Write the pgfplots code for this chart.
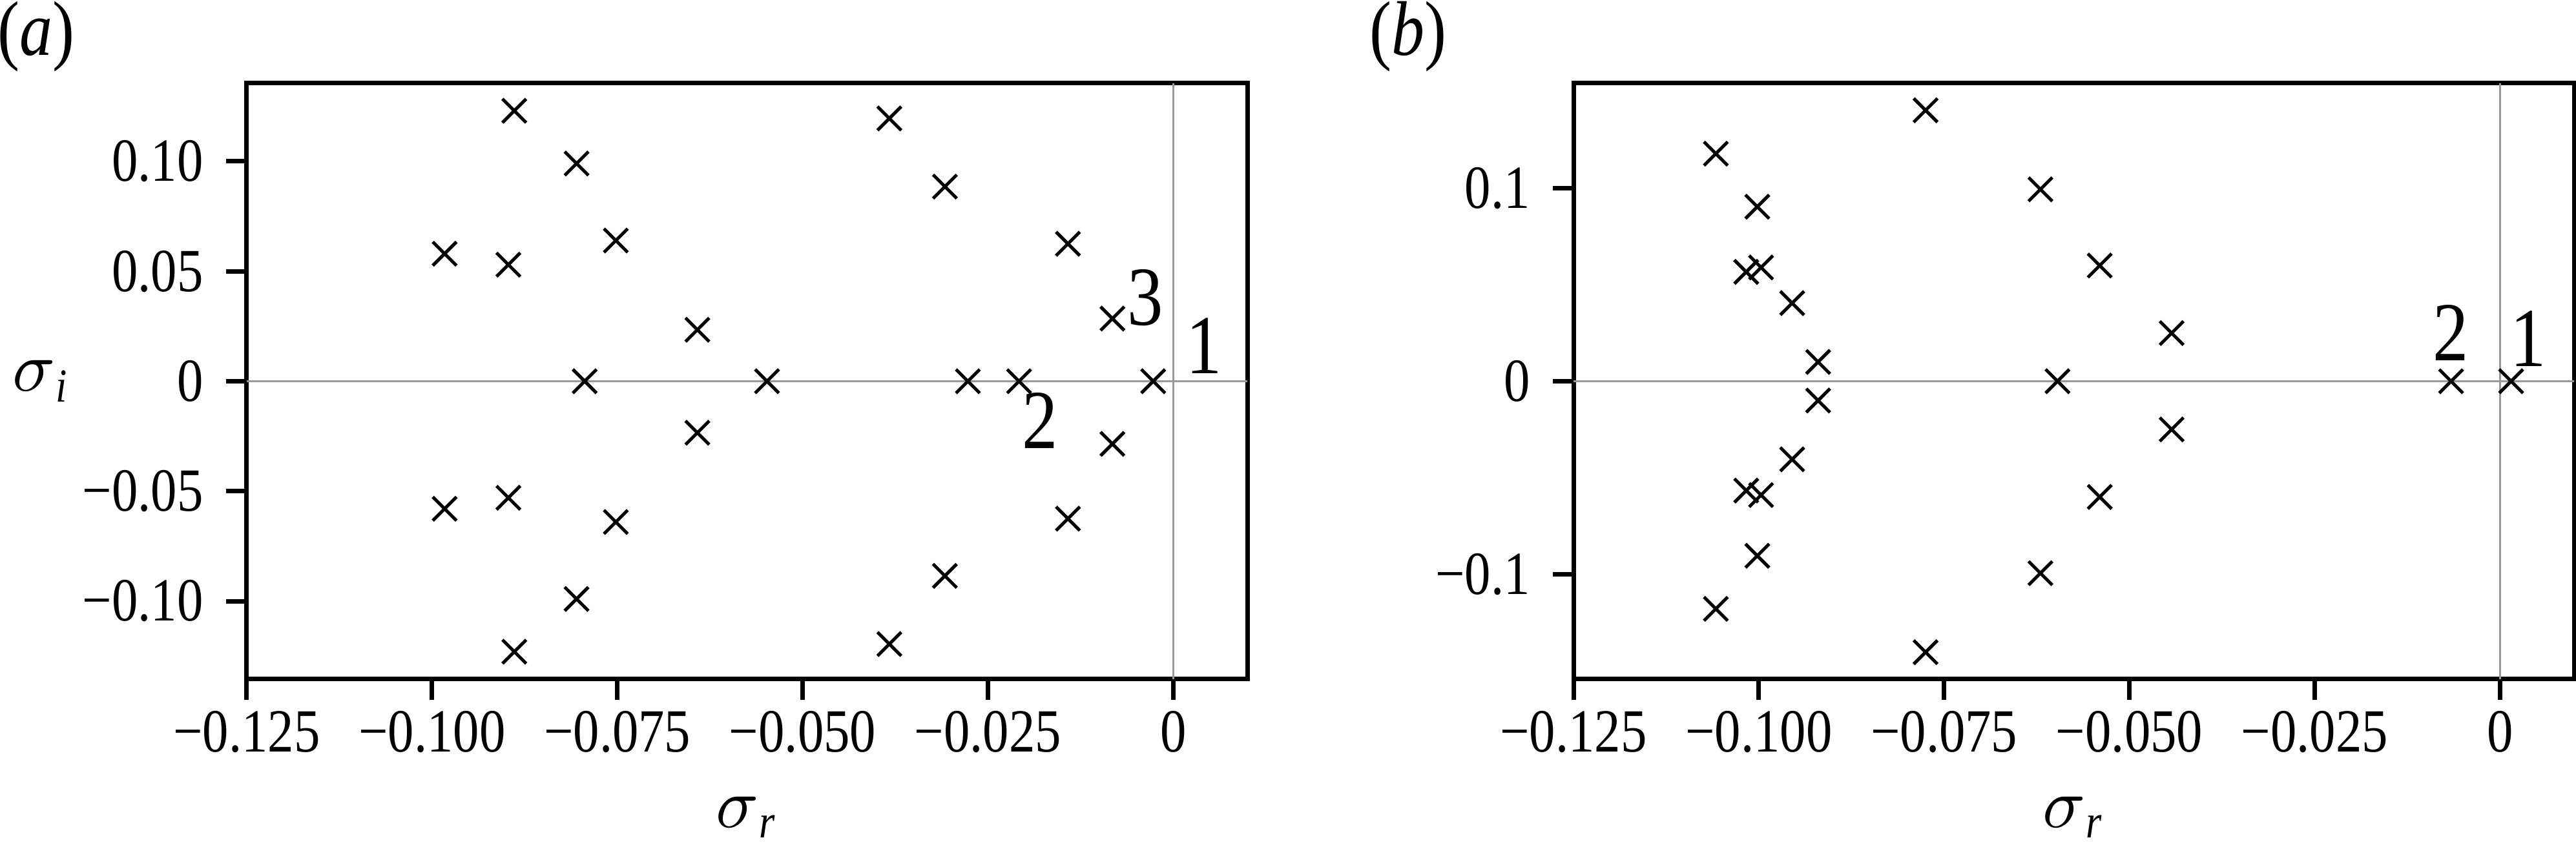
\documentclass[border=0pt]{standalone}
\usepackage{fontspec}
\setmainfont[FakeStretch=0.85]{Liberation Serif}
\usepackage{pgfplots}
\usepackage{pgfplotstable}
\pgfplotsset{compat=1.18}

\pgfplotstableread{
x y
-0.0889 0.123
-0.0805 0.099
-0.0983 0.058
-0.0897 0.053
-0.0752 0.064
-0.0642 0.0234
-0.0794 0
-0.0548 0
-0.0642 -0.0234
-0.0983 -0.058
-0.0897 -0.053
-0.0752 -0.064
-0.0805 -0.099
-0.0889 -0.123
-0.0383 0.1195
-0.0308 0.0885
-0.0142 0.0625
-0.0082 0.0285
-0.0277 0
-0.0208 0
-0.0027 0
-0.0082 -0.0285
-0.0142 -0.0625
-0.0308 -0.0885
-0.0383 -0.1195
}\dataA

\pgfplotstableread{
x y
-0.0775 0.1405
-0.1058 0.118
-0.0620 0.0995
-0.1002 0.0905
-0.1017 0.0567
-0.0997 0.059
-0.0540 0.060
-0.0955 0.0405
-0.0920 0.010
-0.0443 0.025
-0.0597 0
-0.0066 0
0.0015 0
-0.0920 -0.010
-0.0955 -0.0405
-0.1017 -0.0567
-0.0997 -0.059
-0.1002 -0.0905
-0.1058 -0.118
-0.0775 -0.1405
-0.0620 -0.0995
-0.0540 -0.060
-0.0443 -0.025
}\dataB

\pgfplotsset{myax/.style={
  width=154.9pt, height=92.3pt, scale only axis,
  xmin=-0.125, xmax=0.01,
  axis line style={line width=0.7pt},
  every tick/.style={line width=0.7pt, black},
  major tick length=3.2pt,
  tick align=outside,
  xtick pos=left, ytick pos=left,
  xtick={-0.125,-0.1,-0.075,-0.05,-0.025,0},
  xticklabels={−0.125,−0.100,−0.075,−0.050,−0.025,0},
  ticklabel style={font=\fontsize{9.5}{11}\selectfont},
  xticklabel style={inner sep=1.5pt},
  scaled ticks=false,
  clip=false,
  xlabel={$\sigma$\textsubscript{\textit{r}}},
  every axis x label/.style={at={(rel axis cs:0.5,0)}, anchor=center, yshift=-21.4pt, inner sep=0pt, font=\fontsize{10.5}{12}\selectfont},
  every axis y label/.style={at={(rel axis cs:0,0.5)}, anchor=center, xshift=-31.8pt, inner sep=0pt, font=\fontsize{10.5}{12}\selectfont},
}}

\begin{document}
\begin{tikzpicture}
\path[use as bounding box] (0,0) rectangle (398.8pt,133.2pt);
\node[font=\fontsize{12}{14}\selectfont] at (5.6pt,127.5pt) {(\textit{a})};
\node[font=\fontsize{12}{14}\selectfont] at (218.0pt,127.5pt) {(\textit{b})};

\begin{axis}[myax, at={(38.2pt,28pt)}, anchor=south west,
  ymin=-0.1355, ymax=0.1355,
  ytick={-0.1,-0.05,0,0.05,0.1},
  yticklabels={−0.10,−0.05,0,0.05,0.10},
  ylabel={$\sigma$\textsubscript{\textit{i}}}]
\addplot[color={rgb,255:red,153;green,153;blue,153}, line width=0.35pt, forget plot] coordinates {(-0.125,0) (0.01,0)};
\addplot[color={rgb,255:red,153;green,153;blue,153}, line width=0.35pt, forget plot] coordinates {(0,-0.1355) (0,0.1355)};
\addplot[only marks, mark=x, mark size=2.6pt, black, line width=0.5pt] table[x=x,y=y] {\dataA};
\node[font=\fontsize{13}{15}\selectfont] at (axis cs:-0.0038,0.038) {3};
\node[font=\fontsize{13}{15}\selectfont] at (axis cs:0.0042,0.016) {1};
\node[font=\fontsize{13}{15}\selectfont] at (axis cs:-0.018,-0.018) {2};
\end{axis}

\begin{axis}[myax, at={(243.6pt,28pt)}, anchor=south west,
  ymin=-0.1545, ymax=0.1545,
  ytick={-0.1,0,0.1},
  yticklabels={−0.1,0,0.1}]
\addplot[color={rgb,255:red,153;green,153;blue,153}, line width=0.35pt, forget plot] coordinates {(-0.125,0) (0.01,0)};
\addplot[color={rgb,255:red,153;green,153;blue,153}, line width=0.35pt, forget plot] coordinates {(0,-0.1545) (0,0.1545)};
\addplot[only marks, mark=x, mark size=2.6pt, black, line width=0.5pt] table[x=x,y=y] {\dataB};
\node[font=\fontsize{13}{15}\selectfont] at (axis cs:-0.0066,0.025) {2};
\node[font=\fontsize{13}{15}\selectfont] at (axis cs:0.0038,0.022) {1};
\end{axis}
\end{tikzpicture}
\end{document}
